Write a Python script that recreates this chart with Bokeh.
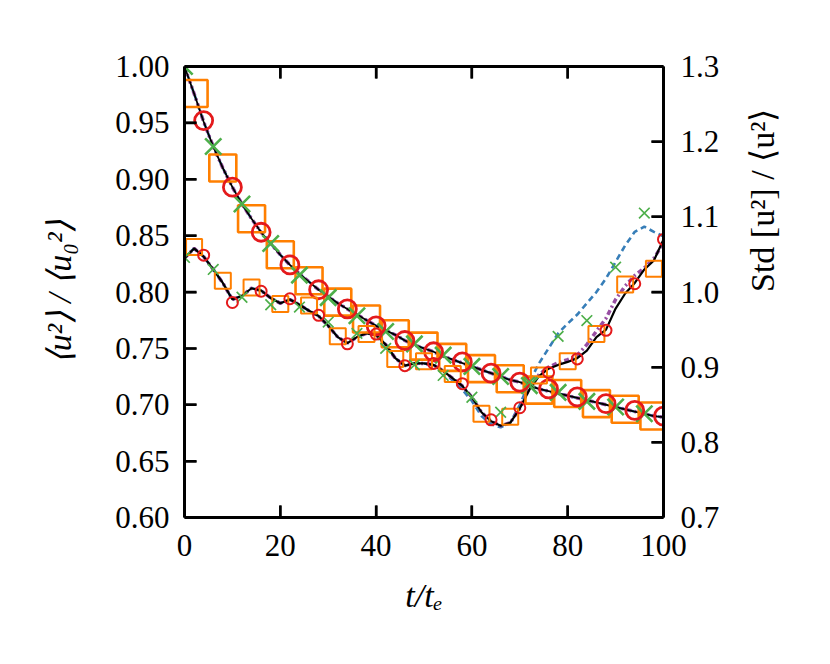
import math
from bokeh.plotting import figure
from bokeh.models import Range1d, LinearAxis, FixedTicker, NumeralTickFormatter, CustomJSTickFormatter
from bokeh.embed import file_html
from bokeh.resources import INLINE

# ---------------- data ----------------
t_line = list(range(0, 101, 2))

# decay curve <u^2>/<u0^2> (left axis)
decay = [1.000, 0.976, 0.951, 0.929, 0.910, 0.893, 0.878, 0.865, 0.853, 0.843,
         0.833, 0.824, 0.816, 0.809, 0.802, 0.796, 0.790, 0.785, 0.780, 0.775,
         0.770, 0.766, 0.762, 0.757, 0.753, 0.750, 0.747, 0.743, 0.740, 0.737,
         0.734, 0.731, 0.728, 0.725, 0.722, 0.720, 0.717, 0.714, 0.712, 0.710,
         0.708, 0.706, 0.704, 0.702, 0.700, 0.698, 0.696, 0.694, 0.692, 0.690,
         0.689]

# Std curve (right axis)
std_black = [1.045, 1.058, 1.047, 1.030, 1.012, 0.990, 0.995, 1.005, 1.002, 0.992,
             0.985, 0.990, 0.983, 0.975, 0.968, 0.955, 0.940, 0.932, 0.940, 0.945,
             0.943, 0.930, 0.912, 0.902, 0.905, 0.905, 0.903, 0.895, 0.885, 0.875,
             0.860, 0.840, 0.828, 0.822, 0.826, 0.845, 0.870, 0.888, 0.898, 0.903,
             0.907, 0.912, 0.922, 0.940, 0.950, 0.978, 0.998, 1.012, 1.030, 1.042,
             1.070]
std_purple = [1.045, 1.058, 1.047, 1.030, 1.012, 0.990, 0.995, 1.005, 1.002, 0.992,
              0.985, 0.990, 0.983, 0.975, 0.968, 0.955, 0.940, 0.932, 0.940, 0.945,
              0.943, 0.930, 0.912, 0.902, 0.905, 0.905, 0.903, 0.895, 0.885, 0.875,
              0.860, 0.840, 0.828, 0.822, 0.826, 0.845, 0.872, 0.890, 0.900, 0.906,
              0.910, 0.916, 0.930, 0.948, 0.965, 0.990, 1.008, 1.022, 1.032, 1.045,
              1.065]
std_blue = [1.045, 1.058, 1.047, 1.030, 1.012, 0.990, 0.995, 1.005, 1.002, 0.992,
            0.985, 0.990, 0.983, 0.975, 0.968, 0.955, 0.940, 0.932, 0.940, 0.945,
            0.943, 0.930, 0.912, 0.902, 0.905, 0.905, 0.903, 0.895, 0.882, 0.870,
            0.855, 0.835, 0.824, 0.820, 0.826, 0.850, 0.880, 0.905, 0.925, 0.945,
            0.958, 0.970, 0.985, 1.000, 1.018, 1.040, 1.062, 1.080, 1.087, 1.080,
            1.074]

# markers
t_sq = list(range(2, 99, 6))
t_ci = list(range(4, 101, 6))
t_x = list(range(0, 97, 6))

decay_sq = [0.976, 0.910, 0.865, 0.833, 0.810, 0.791, 0.776, 0.763, 0.752, 0.742,
            0.732, 0.723, 0.713, 0.710, 0.701, 0.696, 0.690]
decay_ci = [0.952, 0.893, 0.853, 0.824, 0.802, 0.785, 0.770, 0.757, 0.747, 0.738,
            0.728, 0.720, 0.714, 0.707, 0.701, 0.695, 0.690]
decay_x = [1.000, 0.929, 0.878, 0.843, 0.815, 0.795, 0.779, 0.765, 0.754, 0.744,
           0.734, 0.725, 0.717, 0.711, 0.703, 0.698, 0.692]

std_sq = [1.060, 1.015, 1.006, 0.984, 0.982, 0.941, 0.944, 0.911, 0.908, 0.891,
          0.838, 0.834, 0.889, 0.908, 0.944, 1.010, 1.031]
std_ci = [1.049, 0.986, 1.001, 0.991, 0.969, 0.931, 0.944, 0.902, 0.905, 0.878,
          0.830, 0.846, 0.893, 0.911, 0.949, 1.011, 1.070]
std_x = [1.046, 1.030, 0.993, 0.983, 0.980, 0.960, 0.945, 0.925, 0.903, 0.889,
         0.860, 0.840, 0.880, 0.941, 0.962, 1.033, 1.105]

x_ticks = [0, 20, 40, 60, 80, 100]
left_ticks = [0.60, 0.65, 0.70, 0.75, 0.80, 0.85, 0.90, 0.95, 1.00]
right_ticks = [0.7, 0.8, 0.9, 1.0, 1.1, 1.2, 1.3]

X_MIN, X_MAX = 0, 100
L_MIN, L_MAX = 0.6, 1.0
R_MIN, R_MAX = 0.7, 1.3
FRAME_W, FRAME_H = 479, 451
TICK_LEN_PX = 12
TICK_W_PX = 2.5

BLACK = "#000000"
BLUE = "#377eb8"
PURPLE = "#984ea3"
GREEN = "#4daf4a"
ORANGE = "#ff7f00"
RED = "#e41a1c"
FONT = "Liberation Serif"

p = figure(frame_width=FRAME_W, frame_height=FRAME_H,
           x_range=Range1d(X_MIN, X_MAX), y_range=Range1d(L_MIN, L_MAX),
           output_backend="svg", toolbar_location=None,
           min_border_left=184, min_border_right=150,
           min_border_top=66, min_border_bottom=130)
p.extra_y_ranges = {"std": Range1d(R_MIN, R_MAX)}
p.grid.visible = False
p.outline_line_color = None
p.background_fill_color = "white"
p.border_fill_color = "white"


def style(ax):
    ax.axis_line_width = 3
    ax.axis_line_color = "black"
    ax.major_tick_line_color = "black"
    ax.major_tick_line_width = 2
    ax.major_tick_in = TICK_LEN_PX
    ax.major_tick_out = 0
    ax.minor_tick_line_color = None
    ax.major_label_text_font = FONT
    ax.major_label_text_font_size = "31px"
    ax.major_label_text_color = "black"
    ax.axis_label_text_font = FONT
    ax.axis_label_text_font_size = "34px"
    ax.axis_label_text_font_style = "normal"
    ax.axis_label_text_color = "black"


xax = p.below[0]
yax = p.left[0]
xax.ticker = FixedTicker(ticks=x_ticks)
xax.axis_label = "t/tₑ"
yax.ticker = FixedTicker(ticks=left_ticks)
yax.formatter = NumeralTickFormatter(format="0.00")
yax.axis_label = "⟨u²⟩ / ⟨u₀²⟩"

right = LinearAxis(y_range_name="std", axis_label="Std [u²] / ⟨u²⟩",
                   ticker=FixedTicker(ticks=right_ticks),
                   formatter=NumeralTickFormatter(format="0.0"))
p.add_layout(right, "right")
top = LinearAxis(ticker=FixedTicker(ticks=x_ticks),
                 formatter=CustomJSTickFormatter(code="return ''"))
p.add_layout(top, "above")

for ax in [xax, yax, right, top]:
    style(ax)
xax.major_label_standoff = 17
xax.axis_label_text_font_style = "italic"
xax.axis_label_standoff = 18
yax.major_label_standoff = 15
yax.axis_label_text_font_style = "italic"
yax.axis_label_standoff = 34
right.major_label_standoff = 17
right.axis_label_standoff = 40
right.axis_label_orientation = math.pi / 2

# decay lines
p.line(t_line, decay, line_color=BLUE, line_width=2.6, line_dash="6 4")
p.line(t_line, decay, line_color=PURPLE, line_width=3.5, line_dash="5 3 2 3")
p.line(t_line, decay, line_color=BLACK, line_width=1.8)

# std lines
p.line(t_line, std_blue, line_color=BLUE, line_width=2.6, line_dash="6 4", y_range_name="std")
p.line(t_line, std_purple, line_color=PURPLE, line_width=3.5, line_dash="5 3 2 3", y_range_name="std")
p.line(t_line, std_black, line_color=BLACK, line_width=2.2, y_range_name="std")

# big markers
p.scatter(t_sq, decay_sq, marker="square", size=27, fill_color=None, line_color=ORANGE, line_width=2.6)
p.scatter(t_x, decay_x, marker="x", size=23, line_color=GREEN, line_width=2.6)
p.scatter(t_ci, decay_ci, marker="circle", size=18, fill_color=None, line_color=RED, line_width=2.8)

# small markers
p.scatter(t_sq, std_sq, marker="square", size=16, fill_color=None, line_color=ORANGE, line_width=2, y_range_name="std")
p.scatter(t_x, std_x, marker="x", size=15, line_color=GREEN, line_width=1.7, y_range_name="std")
p.scatter(t_ci, std_ci, marker="circle", size=11, fill_color=None, line_color=RED, line_width=2, y_range_name="std")

# inward tick marks as small quads in data units, derived from the tick lists
px_x = (X_MAX - X_MIN) / FRAME_W
px_l = (L_MAX - L_MIN) / FRAME_H
px_r = (R_MAX - R_MIN) / FRAME_H
hw_x = 0.5 * TICK_W_PX * px_x
n = len(x_ticks)
p.quad(left=[t - hw_x for t in x_ticks], right=[t + hw_x for t in x_ticks],
       bottom=[L_MIN] * n, top=[L_MIN + TICK_LEN_PX * px_l] * n,
       fill_color=BLACK, line_color=None)
p.quad(left=[t - hw_x for t in x_ticks], right=[t + hw_x for t in x_ticks],
       bottom=[L_MAX - TICK_LEN_PX * px_l] * n, top=[L_MAX] * n,
       fill_color=BLACK, line_color=None)
m = len(left_ticks)
hw_l = 0.5 * TICK_W_PX * px_l
p.quad(left=[X_MIN] * m, right=[X_MIN + TICK_LEN_PX * px_x] * m,
       bottom=[v - hw_l for v in left_ticks], top=[v + hw_l for v in left_ticks],
       fill_color=BLACK, line_color=None)
k = len(right_ticks)
hw_r = 0.5 * TICK_W_PX * px_r
p.quad(left=[X_MAX - TICK_LEN_PX * px_x] * k, right=[X_MAX] * k,
       bottom=[v - hw_r for v in right_ticks], top=[v + hw_r for v in right_ticks],
       fill_color=BLACK, line_color=None, y_range_name="std")

open("out.html", "w").write(file_html(p, INLINE))
